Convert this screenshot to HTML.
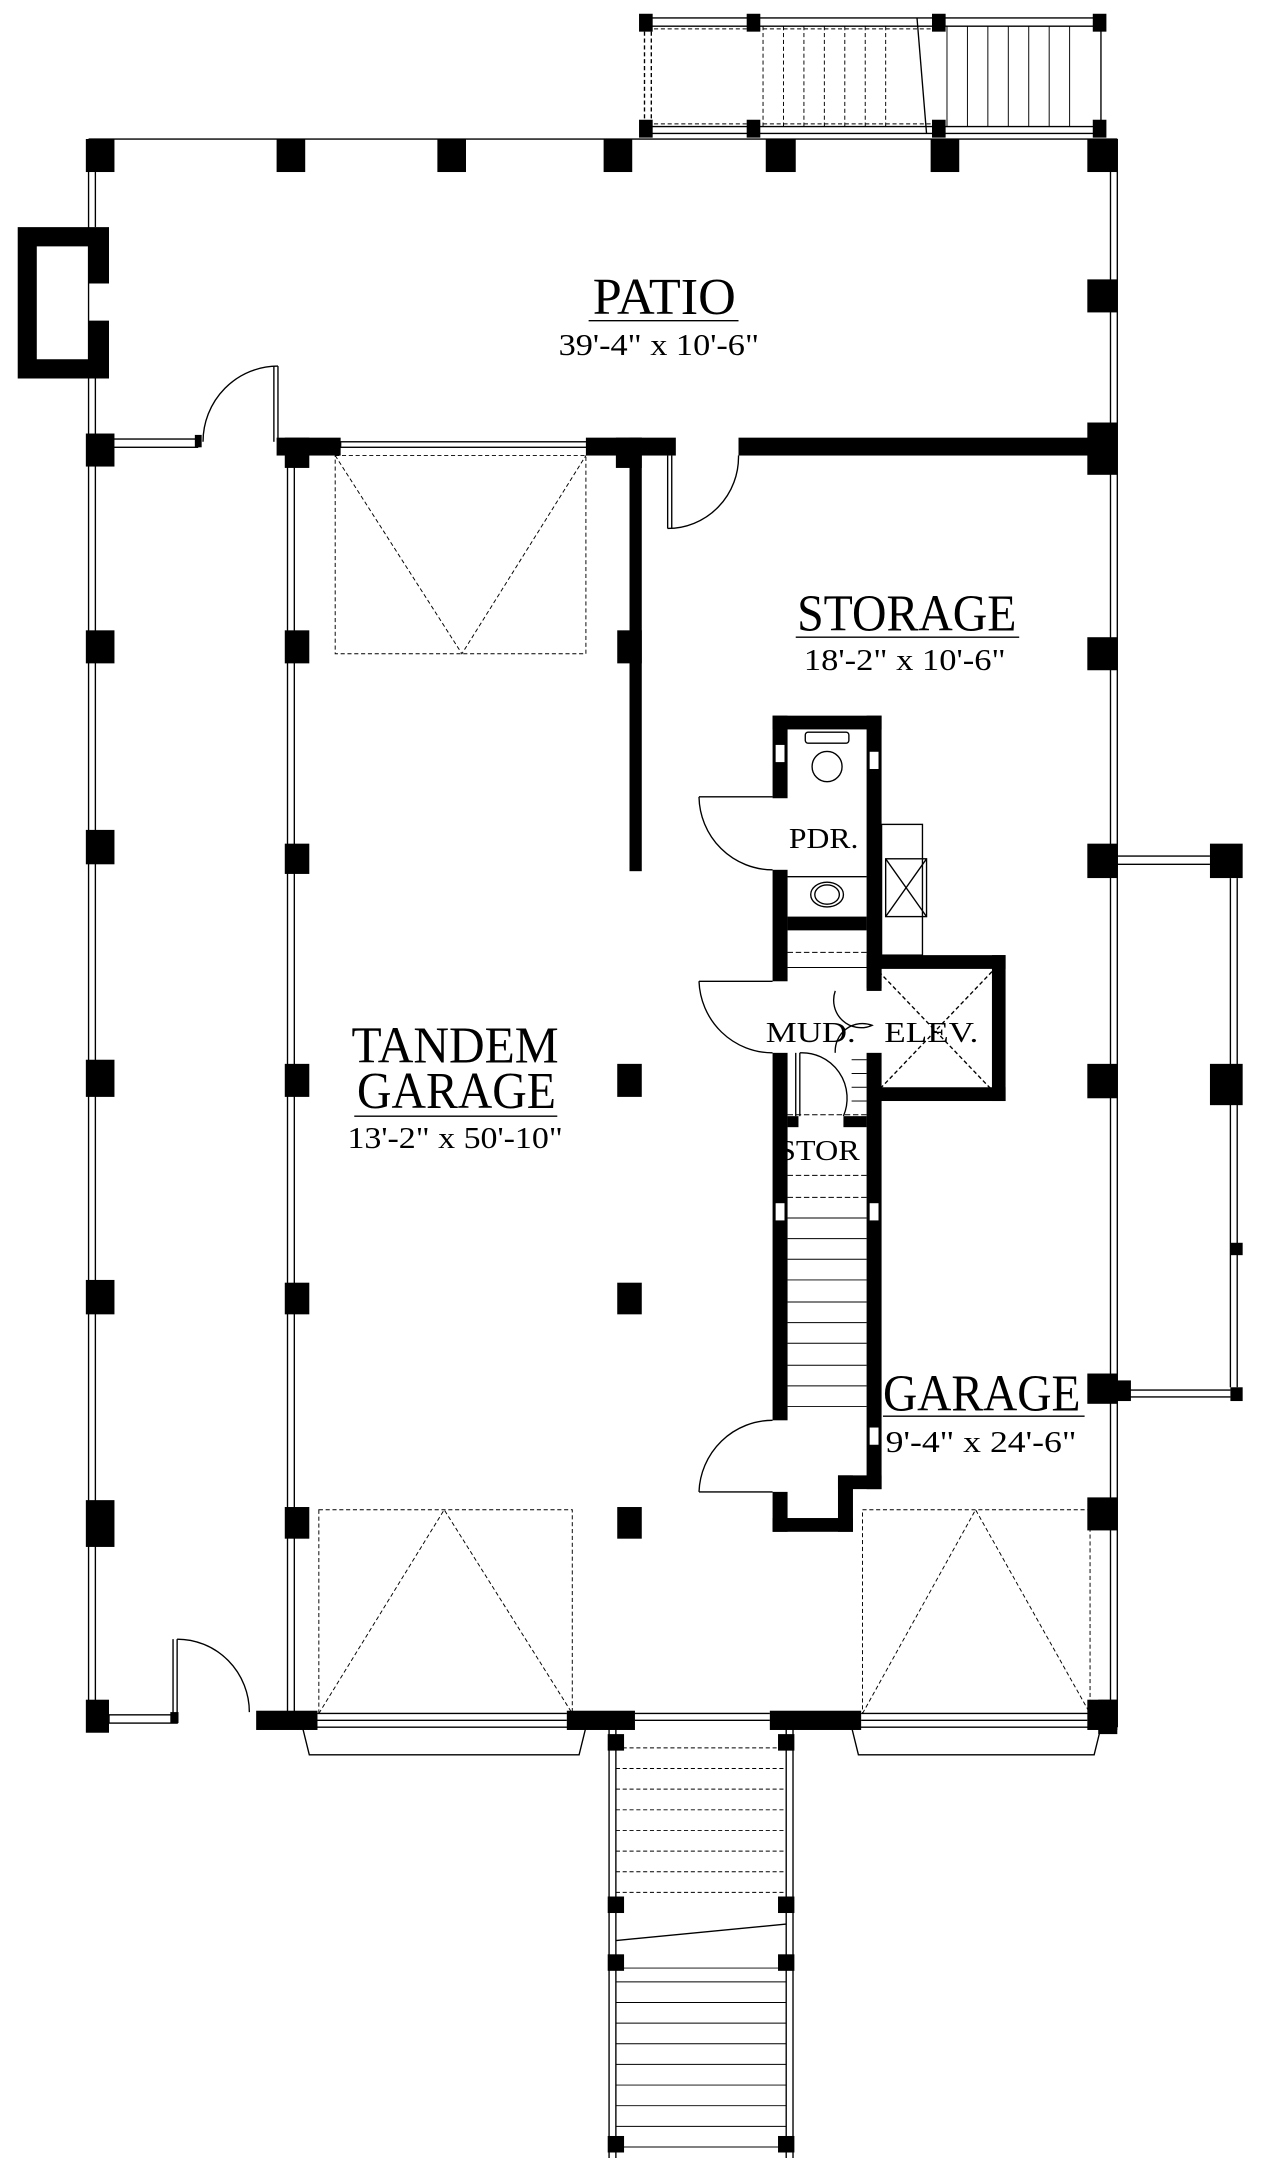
<!DOCTYPE html>
<html><head><meta charset="utf-8"><style>
html,body{margin:0;padding:0;background:#fff;}
svg{display:block;}
text{font-family:"Liberation Serif",serif;fill:#000;}
</style></head><body>
<svg width="1274" height="2158" viewBox="0 0 935 1568" preserveAspectRatio="none" xmlns="http://www.w3.org/2000/svg">
<g fill="none" stroke="#000" stroke-width="1">
<line x1="65" y1="101" x2="820" y2="101"/>
<line x1="65" y1="101" x2="65" y2="1255"/><line x1="70" y1="101" x2="70" y2="165"/><line x1="70" y1="275" x2="70" y2="1255"/>
<line x1="815" y1="101" x2="815" y2="1255"/><line x1="820" y1="101" x2="820" y2="1255"/>
<line x1="204" y1="266" x2="204" y2="321"/><line x1="201" y1="266" x2="201" y2="321"/>
<path d="M204,266 A55,55 0 0 0 149,321"/>
<rect x="80" y="319" width="65" height="6"/>
<rect x="250" y="321" width="183" height="4"/>
<line x1="490" y1="331" x2="490" y2="384"/><line x1="493" y1="331" x2="493" y2="384"/>
<path d="M490,384 A52,52 0 0 0 542,331"/>
<line x1="211" y1="331" x2="211" y2="1250"/><line x1="216" y1="331" x2="216" y2="1250"/>
<g stroke-dasharray="3,2" stroke-width="0.7">
<rect x="246" y="331" width="184" height="144"/>
<polyline points="246,331 339,475 430,331"/>
<rect x="234" y="1097" width="186" height="148"/>
<polyline points="234,1245 326,1097 420,1245"/>
<rect x="633" y="1097" width="167" height="148"/>
<polyline points="633,1245 716,1097 800,1245"/>
</g>
<line x1="233" y1="1245" x2="416" y2="1245"/><line x1="233" y1="1250" x2="416" y2="1250"/>
<line x1="466" y1="1245" x2="565" y2="1245"/><line x1="466" y1="1250" x2="565" y2="1250"/>
<line x1="632" y1="1245" x2="798" y2="1245"/><line x1="632" y1="1250" x2="798" y2="1250"/>
<polygon points="222,1255 430,1255 425,1275 227,1275"/>
<polygon points="625,1255 808,1255 803,1275 630,1275"/>
<line x1="130" y1="1191" x2="130" y2="1250"/><line x1="127" y1="1191" x2="127" y2="1250"/>
<path d="M130,1191 A53,53 0 0 1 183,1244"/>
<rect x="80" y="1246" width="50" height="6"/>
<line x1="447" y1="1255" x2="447" y2="1568"/><line x1="452" y1="1255" x2="452" y2="1568"/>
<line x1="577" y1="1255" x2="577" y2="1568"/><line x1="582" y1="1255" x2="582" y2="1568"/>
<g stroke-dasharray="3,2" stroke-width="0.7">
<line x1="452" y1="1270" x2="577" y2="1270"/><line x1="452" y1="1285" x2="577" y2="1285"/><line x1="452" y1="1300" x2="577" y2="1300"/><line x1="452" y1="1315" x2="577" y2="1315"/><line x1="452" y1="1330" x2="577" y2="1330"/><line x1="452" y1="1345" x2="577" y2="1345"/><line x1="452" y1="1360" x2="577" y2="1360"/><line x1="452" y1="1375" x2="577" y2="1375"/>
</g>
<line x1="452" y1="1410" x2="577" y2="1398"/>
<g stroke-width="0.7">
<line x1="452" y1="1430" x2="577" y2="1430"/><line x1="452" y1="1440" x2="577" y2="1440"/><line x1="452" y1="1455" x2="577" y2="1455"/><line x1="452" y1="1470" x2="577" y2="1470"/><line x1="452" y1="1485" x2="577" y2="1485"/><line x1="452" y1="1500" x2="577" y2="1500"/><line x1="452" y1="1515" x2="577" y2="1515"/><line x1="452" y1="1530" x2="577" y2="1530"/><line x1="452" y1="1545" x2="577" y2="1545"/><line x1="452" y1="1560" x2="577" y2="1560"/>
</g>
<line x1="470" y1="13" x2="810" y2="13"/><line x1="470" y1="19" x2="810" y2="19"/>
<line x1="470" y1="92" x2="810" y2="92"/><line x1="470" y1="97" x2="810" y2="97"/>
<line x1="473" y1="13" x2="473" y2="97" stroke-dasharray="3,2"/><line x1="478" y1="13" x2="478" y2="97" stroke-dasharray="3,2"/>
<line x1="808" y1="13" x2="808" y2="97"/>
<g stroke-dasharray="3,2" stroke-width="0.7">
<line x1="470" y1="21" x2="685" y2="21"/><line x1="470" y1="90" x2="685" y2="90"/>
<line x1="560" y1="19" x2="560" y2="92"/><line x1="575" y1="19" x2="575" y2="92"/><line x1="590" y1="19" x2="590" y2="92"/><line x1="605" y1="19" x2="605" y2="92"/><line x1="620" y1="19" x2="620" y2="92"/><line x1="635" y1="19" x2="635" y2="92"/><line x1="650" y1="19" x2="650" y2="92"/>
</g>
<line x1="673" y1="13" x2="680" y2="97"/>
<g stroke-width="0.7">
<line x1="695" y1="19" x2="695" y2="92"/><line x1="710" y1="19" x2="710" y2="92"/><line x1="725" y1="19" x2="725" y2="92"/><line x1="740" y1="19" x2="740" y2="92"/><line x1="755" y1="19" x2="755" y2="92"/><line x1="770" y1="19" x2="770" y2="92"/><line x1="785" y1="19" x2="785" y2="92"/>
</g>
<line x1="820" y1="622" x2="888" y2="622"/><line x1="820" y1="628" x2="888" y2="628"/>
<line x1="903" y1="638" x2="903" y2="1008"/><line x1="908" y1="638" x2="908" y2="1008"/>
<line x1="820" y1="1010" x2="903" y2="1010"/><line x1="820" y1="1015" x2="903" y2="1015"/>
<line x1="513" y1="579" x2="567" y2="579"/><path d="M513,579 A54,54 0 0 0 567,632"/>
<line x1="513" y1="713" x2="567" y2="713"/><path d="M513,713 A54,54 0 0 0 567,765"/>
<line x1="513" y1="1084" x2="567" y2="1084"/><path d="M513,1084 A54,54 0 0 1 567,1032"/>
<line x1="584" y1="765" x2="584" y2="811"/><line x1="587" y1="765" x2="587" y2="811"/>
<path d="M587,765 A33,33 0 0 1 619,811"/>
<path d="M613,720 A20,20 0 0 0 640,745 A20,20 0 0 0 613,765"/>
<rect x="591" y="532" width="32" height="8" rx="2"/>
<ellipse cx="607" cy="557" rx="11" ry="11"/>
<line x1="578" y1="637" x2="636" y2="637"/>
<ellipse cx="607" cy="650" rx="12" ry="9"/><ellipse cx="607" cy="650" rx="9" ry="7"/>
<rect x="647" y="599" width="30" height="95"/>
<rect x="650" y="624" width="30" height="42"/>
<line x1="650" y1="624" x2="680" y2="666"/><line x1="680" y1="624" x2="650" y2="666"/>
<line x1="645" y1="706" x2="728" y2="792" stroke-dasharray="3,2"/><line x1="728" y1="706" x2="645" y2="792" stroke-dasharray="3,2"/>
<g stroke-width="0.7">
<line x1="578" y1="692" x2="636" y2="692" stroke-dasharray="4,2"/><line x1="578" y1="703" x2="636" y2="703"/>
<line x1="578" y1="810" x2="636" y2="810" stroke-dasharray="4,2"/>
<line x1="578" y1="854" x2="636" y2="854" stroke-dasharray="4,2"/><line x1="578" y1="870" x2="636" y2="870" stroke-dasharray="4,2"/>
<line x1="578" y1="885" x2="636" y2="885"/><line x1="578" y1="900" x2="636" y2="900"/><line x1="578" y1="915" x2="636" y2="915"/><line x1="578" y1="930" x2="636" y2="930"/><line x1="578" y1="946" x2="636" y2="946"/><line x1="578" y1="961" x2="636" y2="961"/><line x1="578" y1="976" x2="636" y2="976"/><line x1="578" y1="992" x2="636" y2="992"/><line x1="578" y1="1007" x2="636" y2="1007"/><line x1="578" y1="1022" x2="636" y2="1022"/>
<line x1="625" y1="770" x2="636" y2="770"/><line x1="625" y1="780" x2="636" y2="780"/><line x1="625" y1="790" x2="636" y2="790"/><line x1="625" y1="800" x2="636" y2="800"/>
</g>
<line x1="432" y1="233" x2="542" y2="233"/>
<line x1="584" y1="463" x2="748" y2="463"/>
<line x1="260" y1="811" x2="409" y2="811"/>
<line x1="648" y1="1029" x2="796" y2="1029"/>
</g>
<g fill="#000">
<path d="M13,165 H80 V206 H65 V179 H27 V261 H65 V233 H80 V275 H13 Z"/>
<rect x="63" y="101" width="21" height="24"/><rect x="203" y="101" width="21" height="24"/><rect x="321" y="101" width="21" height="24"/><rect x="443" y="101" width="21" height="24"/><rect x="562" y="101" width="22" height="24"/><rect x="683" y="101" width="21" height="24"/><rect x="798" y="101" width="22" height="24"/>
<rect x="798" y="203" width="22" height="24"/><rect x="798" y="307" width="22" height="38"/><rect x="798" y="463" width="22" height="24"/><rect x="798" y="613" width="22" height="25"/><rect x="798" y="773" width="22" height="25"/><rect x="798" y="998" width="22" height="22"/><rect x="798" y="1088" width="22" height="24"/><rect x="806" y="1235" width="14" height="25"/>
<rect x="63" y="315" width="21" height="24"/><rect x="63" y="458" width="21" height="24"/><rect x="63" y="603" width="21" height="25"/><rect x="63" y="770" width="21" height="27"/><rect x="63" y="930" width="21" height="25"/><rect x="63" y="1090" width="21" height="34"/><rect x="63" y="1235" width="17" height="24"/>
<rect x="143" y="316" width="5" height="9"/><rect x="125" y="1244" width="6" height="8"/>
<rect x="209" y="458" width="18" height="24"/><rect x="209" y="613" width="18" height="22"/><rect x="209" y="773" width="18" height="24"/><rect x="209" y="932" width="18" height="23"/><rect x="209" y="1095" width="18" height="23"/>
<rect x="453" y="458" width="18" height="24"/><rect x="453" y="773" width="18" height="24"/><rect x="453" y="932" width="18" height="23"/><rect x="453" y="1095" width="18" height="23"/>
<rect x="203" y="318" width="47" height="13"/><rect x="209" y="318" width="18" height="22"/>
<rect x="430" y="318" width="66" height="13"/><rect x="452" y="318" width="19" height="22"/>
<rect x="462" y="318" width="9" height="315"/>
<rect x="542" y="318" width="278" height="13"/>
<rect x="188" y="1243" width="45" height="14"/><rect x="416" y="1243" width="50" height="14"/><rect x="565" y="1243" width="67" height="14"/><rect x="798" y="1235" width="22" height="22"/>
<rect x="446" y="1260" width="12" height="12"/><rect x="571" y="1260" width="12" height="12"/><rect x="446" y="1378" width="12" height="12"/><rect x="571" y="1378" width="12" height="12"/><rect x="446" y="1420" width="12" height="12"/><rect x="571" y="1420" width="12" height="12"/><rect x="446" y="1552" width="12" height="12"/><rect x="571" y="1552" width="12" height="12"/>
<rect x="469" y="10" width="10" height="13"/><rect x="548" y="10" width="10" height="13"/><rect x="684" y="10" width="10" height="13"/><rect x="802" y="10" width="10" height="13"/>
<rect x="469" y="87" width="10" height="13"/><rect x="548" y="87" width="10" height="13"/><rect x="684" y="87" width="10" height="13"/><rect x="802" y="87" width="10" height="13"/>
<rect x="888" y="613" width="24" height="25"/><rect x="888" y="773" width="24" height="30"/><rect x="903" y="903" width="9" height="9"/><rect x="903" y="1008" width="9" height="10"/><rect x="815" y="1003" width="15" height="15"/>
<rect x="567" y="520" width="80" height="10"/>
<rect x="636" y="520" width="11" height="198"/>
<rect x="578" y="666" width="58" height="10"/>
<rect x="567" y="520" width="11" height="60"/>
<rect x="567" y="632" width="11" height="81"/>
<rect x="567" y="765" width="11" height="267"/>
<rect x="567" y="1084" width="11" height="29"/>
<rect x="567" y="1103" width="59" height="10"/>
<rect x="615" y="1072" width="11" height="41"/>
<rect x="615" y="1072" width="32" height="10"/>
<rect x="636" y="765" width="11" height="317"/>
<rect x="640" y="694" width="98" height="10"/><rect x="728" y="694" width="10" height="106"/><rect x="640" y="790" width="98" height="10"/>
<rect x="636" y="694" width="11" height="26"/>
<rect x="619" y="811" width="17" height="8"/><rect x="578" y="811" width="8" height="8"/>
</g>
<g fill="#fff" stroke="#000" stroke-width="0.5">
<rect x="569" y="541" width="7" height="13"/><rect x="638" y="546" width="7" height="13"/>
<rect x="569" y="874" width="7" height="13"/><rect x="638" y="874" width="7" height="13"/><rect x="638" y="1037" width="7" height="13"/>
</g>
<text x="435" y="228" font-size="38" textLength="105" lengthAdjust="spacingAndGlyphs">PATIO</text>
<text x="410" y="258" font-size="22" textLength="147" lengthAdjust="spacingAndGlyphs">39'-4" x 10'-6"</text>
<text x="585" y="458" font-size="38" textLength="161" lengthAdjust="spacingAndGlyphs">STORAGE</text>
<text x="590" y="487" font-size="22" textLength="148" lengthAdjust="spacingAndGlyphs">18'-2" x 10'-6"</text>
<text x="258" y="772" font-size="38" textLength="152" lengthAdjust="spacingAndGlyphs">TANDEM</text>
<text x="262" y="805" font-size="38" textLength="146" lengthAdjust="spacingAndGlyphs">GARAGE</text>
<text x="255" y="834" font-size="22" textLength="158" lengthAdjust="spacingAndGlyphs">13'-2" x 50'-10"</text>
<text x="648" y="1025" font-size="38" textLength="145" lengthAdjust="spacingAndGlyphs">GARAGE</text>
<text x="650" y="1055" font-size="22" textLength="140" lengthAdjust="spacingAndGlyphs">9'-4" x 24'-6"</text>
<text x="579" y="616" font-size="21" textLength="51" lengthAdjust="spacingAndGlyphs">PDR.</text>
<text x="562" y="757" font-size="21" textLength="66" lengthAdjust="spacingAndGlyphs">MUD.</text>
<text x="649" y="757" font-size="21" textLength="69" lengthAdjust="spacingAndGlyphs">ELEV.</text>
<text x="571" y="843" font-size="21" textLength="60" lengthAdjust="spacingAndGlyphs">STOR</text>
</svg>
</body></html>
